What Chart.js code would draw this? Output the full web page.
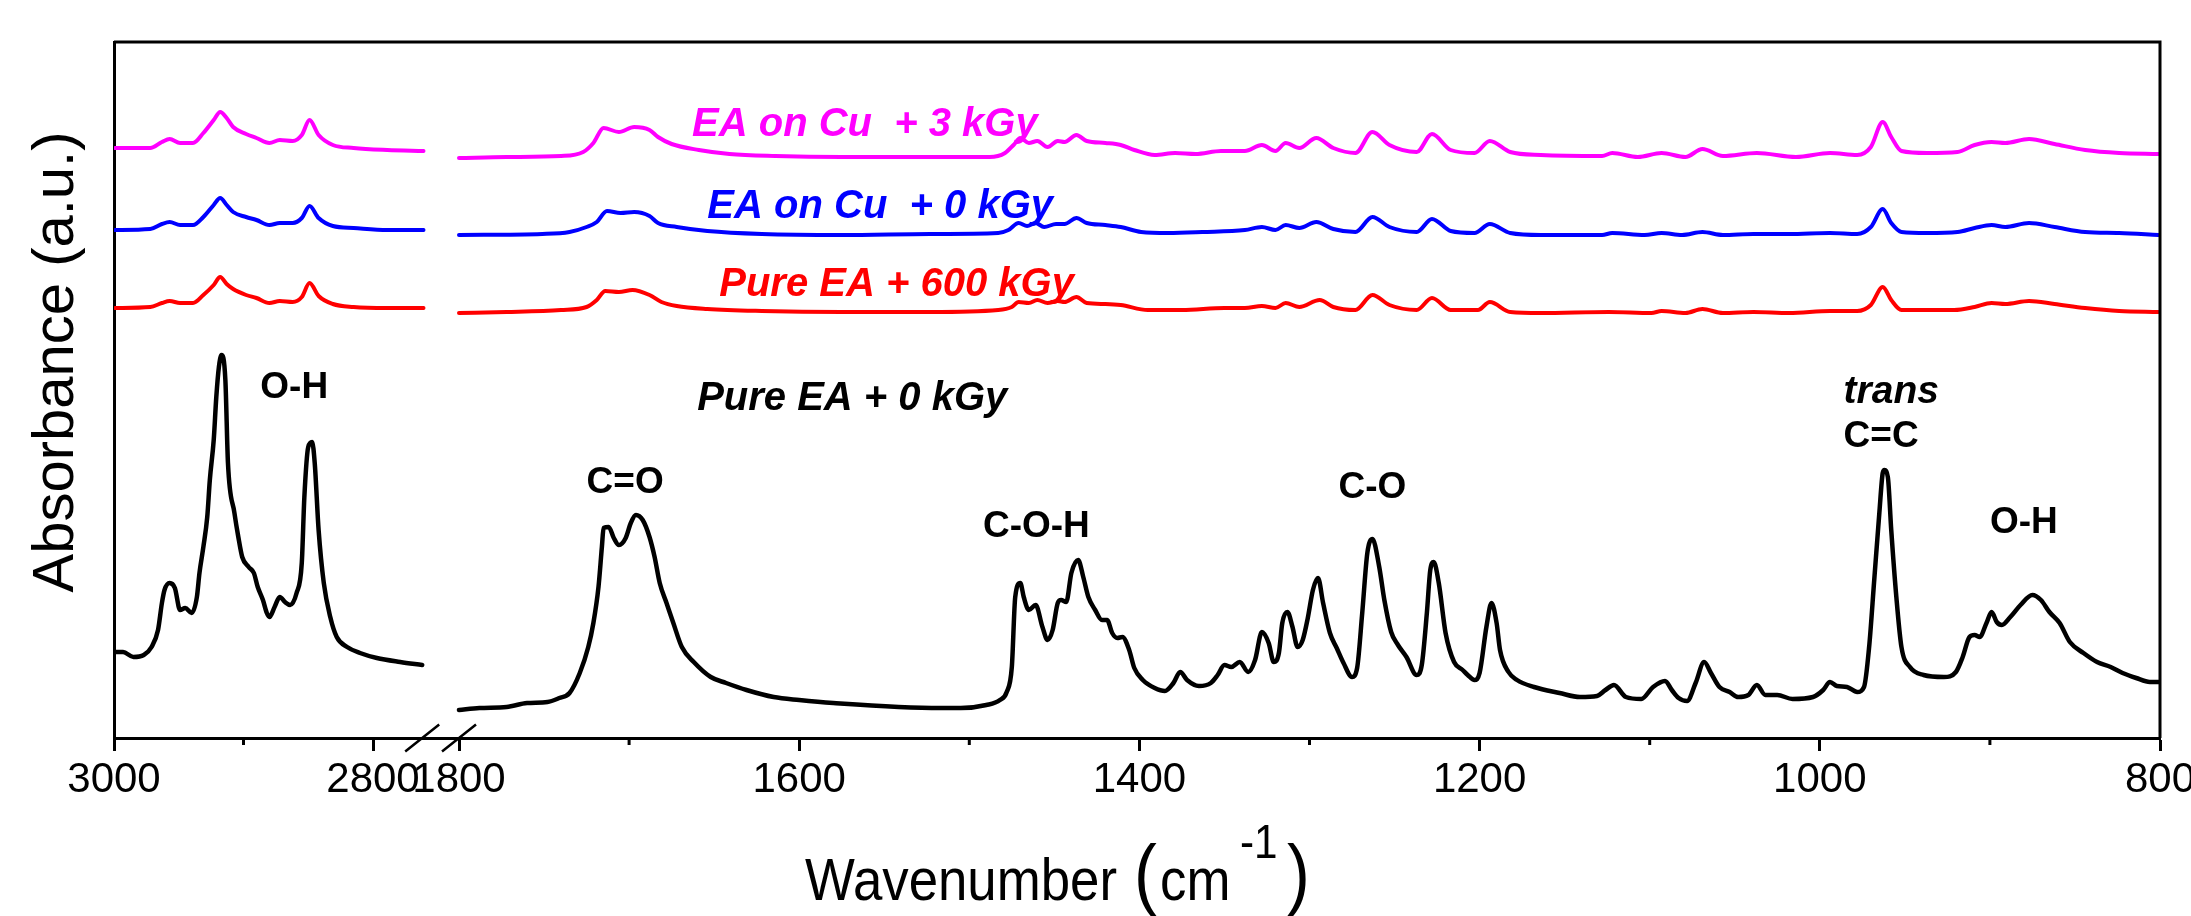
<!DOCTYPE html>
<html>
<head>
<meta charset="utf-8">
<title>FTIR spectra of EA</title>
<script src="https://cdn.jsdelivr.net/npm/chart.js@4.4.1/dist/chart.umd.min.js"></script>
<style>
  html, body { margin: 0; padding: 0; background: #fff; }
  #wrap { width: 2191px; height: 916px; }
</style>
</head>
<body>
<div id="wrap"><canvas id="ftir" width="2191" height="916"></canvas></div>
<script>
/* ==========================================================
   FTIR spectra, broken wavenumber axis (3000-2762 | 1800-800)
   ========================================================== */

const MAJOR_TICKS = [3000, 2800, 1800, 1600, 1400, 1200, 1000, 800];
const MINOR_TICKS = [2900, 1700, 1500, 1300, 1100, 900];
const BREAK_AT = [2762, 1800];   // last point of left part, first point of right part

// Pure EA + 0 kGy (black)
const pure0Wn = [
  2999, 2993, 2985, 2977, 2971, 2966, 2963, 2961, 2957, 2953,
  2949, 2945, 2940, 2936, 2934, 2931, 2928, 2926, 2923, 2921,
  2919, 2917, 2914, 2912, 2907, 2904, 2901, 2896, 2892, 2889,
  2885, 2882, 2880, 2876, 2872, 2868, 2864, 2859, 2855, 2853,
  2850, 2847, 2845, 2842, 2838, 2833, 2828, 2820, 2810, 2797,
  2779, 2762,
  1800, 1788, 1772, 1760, 1748, 1741, 1735, 1729, 1724, 1721,
  1718, 1716, 1715, 1712, 1709, 1706, 1702, 1699, 1696, 1692,
  1688, 1685, 1682, 1678, 1674, 1669, 1662, 1652, 1643, 1631,
  1615, 1600, 1580, 1517, 1505, 1490, 1482, 1478, 1475, 1473,
  1470, 1468, 1465, 1461, 1457, 1454, 1451, 1448, 1446, 1443,
  1440, 1436, 1433, 1430, 1426, 1422, 1419, 1416, 1413, 1410,
  1406, 1403, 1398, 1391, 1385, 1380, 1376, 1372, 1365, 1358,
  1354, 1350, 1346, 1341, 1336, 1332, 1328, 1324, 1321, 1318,
  1316, 1313, 1310, 1307, 1304, 1301, 1298, 1295, 1292, 1288,
  1284, 1280, 1275, 1272, 1269, 1266, 1263, 1259, 1256, 1252,
  1248, 1243, 1237, 1234, 1231, 1229, 1227, 1224, 1220, 1215,
  1210, 1207, 1203, 1200, 1196, 1193, 1190, 1188, 1183, 1178,
  1168, 1153, 1141, 1131, 1126, 1121, 1114, 1105, 1098, 1091,
  1087, 1083, 1078, 1073, 1068, 1064, 1059, 1053, 1048, 1042,
  1037, 1032, 1025, 1016, 1004, 998, 994, 990, 984, 978,
  974, 971, 968, 965, 963, 962, 960, 958, 955, 952,
  947, 939, 927, 920, 916, 912, 909, 906, 902, 899,
  896, 893, 888, 882, 875, 870, 865, 859, 853, 845,
  837, 829, 822, 814, 806, 800
];
const pure0Abs = [
  0.86, 0.86, 0.81, 0.83, 0.91, 1.08, 1.35, 1.48, 1.55, 1.50,
  1.28, 1.30, 1.25, 1.41, 1.65, 1.91, 2.21, 2.58, 2.98, 3.41,
  3.71, 3.83, 3.58, 2.75, 2.25, 2.01, 1.81, 1.71, 1.65, 1.51,
  1.38, 1.25, 1.21, 1.31, 1.41, 1.36, 1.33, 1.45, 1.75, 2.41,
  2.91, 2.96, 2.75, 2.08, 1.55, 1.21, 1.01, 0.91, 0.85, 0.80,
  0.76, 0.73,
  0.28, 0.30, 0.31, 0.35, 0.36, 0.40, 0.45, 0.65, 0.91, 1.15,
  1.51, 1.91, 2.10, 2.11, 2.00, 1.93, 2.00, 2.15, 2.23, 2.18,
  2.01, 1.81, 1.55, 1.35, 1.15, 0.91, 0.76, 0.61, 0.55, 0.48,
  0.41, 0.38, 0.35, 0.30, 0.30, 0.33, 0.38, 0.46, 0.71, 1.41,
  1.55, 1.41, 1.28, 1.33, 1.11, 0.98, 1.08, 1.35, 1.38, 1.36,
  1.65, 1.78, 1.61, 1.41, 1.28, 1.18, 1.18, 1.05, 1.00, 1.01,
  0.88, 0.70, 0.58, 0.50, 0.47, 0.55, 0.66, 0.58, 0.52, 0.55,
  0.63, 0.73, 0.71, 0.76, 0.66, 0.78, 1.06, 0.95, 0.76, 0.85,
  1.15, 1.26, 1.11, 0.91, 0.98, 1.20, 1.48, 1.60, 1.35, 1.05,
  0.90, 0.75, 0.61, 0.70, 1.25, 1.85, 1.99, 1.71, 1.38, 1.06,
  0.93, 0.81, 0.63, 0.73, 1.25, 1.68, 1.76, 1.55, 1.05, 0.76,
  0.68, 0.63, 0.58, 0.65, 1.11, 1.35, 1.15, 0.88, 0.66, 0.58,
  0.51, 0.45, 0.41, 0.42, 0.48, 0.53, 0.41, 0.39, 0.51, 0.57,
  0.48, 0.40, 0.37, 0.55, 0.76, 0.65, 0.51, 0.46, 0.41, 0.43,
  0.53, 0.43, 0.43, 0.39, 0.41, 0.48, 0.56, 0.52, 0.51, 0.46,
  0.51, 0.91, 1.58, 2.25, 2.65, 2.68, 2.61, 2.08, 1.41, 0.91,
  0.71, 0.63, 0.61, 0.66, 0.81, 1.01, 1.03, 1.01, 1.15, 1.26,
  1.16, 1.13, 1.21, 1.33, 1.43, 1.38, 1.26, 1.15, 0.96, 0.85,
  0.76, 0.71, 0.65, 0.60, 0.56, 0.56
];

// the three offset spectra share one wavenumber grid for the left part
const leftWn = [
  2999, 2972, 2963, 2957, 2949, 2939, 2931, 2923, 2918, 2913,
  2908, 2898, 2890, 2880, 2872, 2862, 2855, 2849, 2842, 2831,
  2815, 2789, 2761
];

// Pure EA + 600 kGy (red)
const pure600Wn = leftWn.concat([
  1800, 1772, 1740, 1725, 1719, 1714, 1706, 1698, 1688, 1681,
  1672, 1654, 1622, 1575, 1523, 1483, 1475, 1471, 1465, 1460,
  1454, 1448, 1444, 1437, 1431, 1420, 1411, 1395, 1375, 1350,
  1338, 1328, 1320, 1314, 1306, 1294, 1286, 1273, 1263, 1253,
  1237, 1228, 1217, 1201, 1194, 1182, 1164, 1124, 1099, 1093,
  1079, 1069, 1057, 1039, 1018, 994, 978, 970, 963, 958,
  952, 921, 909, 899, 891, 877, 862, 844, 824, 801
]);
const pure600Abs = [
  4.30, 4.31, 4.35, 4.37, 4.35, 4.35, 4.43, 4.53, 4.61, 4.54,
  4.49, 4.43, 4.40, 4.35, 4.37, 4.36, 4.41, 4.55, 4.42, 4.34,
  4.31, 4.30, 4.30,
  4.25, 4.26, 4.28, 4.31, 4.38, 4.47, 4.46, 4.48, 4.43, 4.36,
  4.32, 4.29, 4.27, 4.26, 4.26, 4.28, 4.31, 4.36, 4.35, 4.38,
  4.35, 4.37, 4.36, 4.41, 4.35, 4.34, 4.33, 4.28, 4.28, 4.30,
  4.30, 4.32, 4.30, 4.35, 4.31, 4.38, 4.31, 4.28, 4.43, 4.33,
  4.28, 4.40, 4.28, 4.28, 4.36, 4.26, 4.25, 4.26, 4.25, 4.27,
  4.25, 4.29, 4.25, 4.26, 4.25, 4.27, 4.27, 4.33, 4.51, 4.38,
  4.28, 4.28, 4.31, 4.35, 4.34, 4.37, 4.34, 4.30, 4.27, 4.26
];

// EA on Cu + 0 kGy (blue)
const cu0Wn = leftWn.concat([
  1800, 1751, 1735, 1725, 1719, 1713, 1705, 1697, 1688, 1683,
  1672, 1654, 1622, 1575, 1523, 1483, 1477, 1471, 1466, 1461,
  1456, 1449, 1444, 1437, 1431, 1420, 1411, 1399, 1383, 1363,
  1338, 1328, 1320, 1314, 1306, 1296, 1286, 1273, 1263, 1253,
  1237, 1228, 1217, 1203, 1194, 1182, 1164, 1128, 1122, 1103,
  1093, 1081, 1069, 1057, 1039, 1018, 994, 978, 970, 963,
  958, 952, 937, 919, 909, 899, 891, 877, 862, 844,
  824, 801
]);
const cu0Abs = [
  5.08, 5.09, 5.14, 5.16, 5.13, 5.13, 5.21, 5.33, 5.40, 5.33,
  5.26, 5.21, 5.18, 5.13, 5.15, 5.15, 5.20, 5.32, 5.20, 5.12,
  5.10, 5.08, 5.08,
  5.03, 5.04, 5.06, 5.11, 5.16, 5.27, 5.25, 5.26, 5.22, 5.15,
  5.11, 5.07, 5.04, 5.03, 5.04, 5.05, 5.08, 5.15, 5.12, 5.15,
  5.11, 5.14, 5.14, 5.20, 5.15, 5.13, 5.11, 5.06, 5.05, 5.06,
  5.08, 5.11, 5.08, 5.13, 5.10, 5.16, 5.09, 5.06, 5.21, 5.11,
  5.06, 5.19, 5.07, 5.05, 5.14, 5.05, 5.03, 5.03, 5.05, 5.03,
  5.05, 5.03, 5.06, 5.03, 5.04, 5.04, 5.05, 5.04, 5.11, 5.29,
  5.15, 5.06, 5.05, 5.06, 5.10, 5.13, 5.11, 5.15, 5.11, 5.06,
  5.05, 5.03
];

// EA on Cu + 3 kGy (magenta)
const cu3Wn = leftWn.concat([
  1800, 1772, 1740, 1727, 1721, 1715, 1706, 1697, 1688, 1683,
  1675, 1659, 1641, 1614, 1575, 1523, 1488, 1479, 1474, 1470,
  1465, 1460, 1454, 1448, 1444, 1437, 1431, 1420, 1411, 1403,
  1391, 1379, 1367, 1352, 1338, 1328, 1320, 1314, 1306, 1296,
  1286, 1273, 1263, 1253, 1237, 1228, 1217, 1203, 1194, 1182,
  1164, 1128, 1122, 1107, 1093, 1079, 1069, 1057, 1037, 1014,
  994, 978, 970, 963, 958, 952, 937, 919, 909, 899,
  891, 877, 862, 844, 824, 801
]);
const cu3Abs = [
  5.90, 5.90, 5.96, 5.99, 5.95, 5.95, 6.05, 6.18, 6.26, 6.20,
  6.11, 6.04, 6.00, 5.95, 5.98, 5.97, 6.03, 6.18, 6.03, 5.93,
  5.90, 5.88, 5.87,
  5.80, 5.81, 5.82, 5.86, 5.95, 6.10, 6.06, 6.11, 6.08, 6.01,
  5.94, 5.88, 5.84, 5.82, 5.81, 5.81, 5.81, 5.85, 5.93, 6.00,
  5.95, 5.97, 5.91, 5.97, 5.96, 6.03, 5.97, 5.95, 5.93, 5.88,
  5.83, 5.85, 5.84, 5.87, 5.87, 5.93, 5.87, 5.95, 5.90, 6.00,
  5.90, 5.85, 6.06, 5.93, 5.86, 6.04, 5.88, 5.85, 5.97, 5.86,
  5.83, 5.82, 5.85, 5.81, 5.85, 5.81, 5.89, 5.82, 5.85, 5.81,
  5.85, 5.83, 5.91, 6.16, 6.01, 5.87, 5.85, 5.86, 5.93, 5.96,
  5.95, 5.99, 5.94, 5.88, 5.85, 5.84
];

// band assignments and series names, anchored at (wavenumber, absorbance)
const BAND_LABELS = [
  { text: 'O-H',   wn: 2887, at: 3.40 },
  { text: 'C=O',   wn: 1725, at: 2.45 },
  { text: 'C-O-H', wn: 1492, at: 2.01 },
  { text: 'C-O',   wn: 1283, at: 2.40 },
  { text: 'trans', wn: 986,  at: 3.35, italic: true },
  { text: 'C=C',   wn: 986,  at: 2.91 },
  { text: 'O-H',   wn: 900,  at: 2.05 },
];
const SERIES_LABELS = [
  { text: 'EA on Cu  + 3 kGy', wn: 1663, at: 6.02, color: '#FF00FF' },
  { text: 'EA on Cu  + 0 kGy', wn: 1654, at: 5.20, color: '#0000FF' },
  { text: 'Pure EA + 600 kGy', wn: 1647, at: 4.42, color: '#FF0000' },
  { text: 'Pure EA + 0 kGy',   wn: 1660, at: 3.28, color: '#000000' },
];

// broken axis: both parts share one linear scale, right part is stretched more
const AXIS = { leftStart: 3000, leftPerCm: 1.295, rightStart: 1800, rightOffset: 345, rightPerCm: 1.701 };
const toAxis = wn => wn > 2000
  ? (AXIS.leftStart - wn) * AXIS.leftPerCm
  : AXIS.rightOffset + (AXIS.rightStart - wn) * AXIS.rightPerCm;

function series(wn, abs) {
  const pts = [];
  wn.forEach((w, i) => {
    if (i > 0 && wn[i - 1] > 2000 && w < 2000) pts.push({ x: (toAxis(wn[i - 1]) + toAxis(w)) / 2, y: null });
    pts.push({ x: toAxis(w), y: abs[i] });
  });
  return pts;
}

const FONT = '"Liberation Sans", Arial, Helvetica, sans-serif';

function drawText(ctx, str, x, y, font, color, sx = 1) {
  ctx.save();
  ctx.translate(x, y);
  ctx.scale(sx, 1);
  ctx.font = font;
  ctx.fillStyle = color;
  ctx.textAlign = 'left';
  ctx.textBaseline = 'alphabetic';
  ctx.fillText(str, 0, 0);
  ctx.restore();
}

const decorPlugin = {
  id: 'decor',
  afterDatasetsDraw(chart) {
    const { ctx, chartArea: a, scales: { x, y } } = chart;
    ctx.save();
    ctx.strokeStyle = '#000';
    ctx.lineWidth = 3;
    // top and right frame
    ctx.beginPath();
    ctx.moveTo(a.left, a.top); ctx.lineTo(a.right, a.top); ctx.lineTo(a.right, a.bottom);
    ctx.stroke();
    // minor ticks
    ctx.beginPath();
    MINOR_TICKS.forEach(w => {
      const px = x.getPixelForValue(toAxis(w));
      ctx.moveTo(px, a.bottom); ctx.lineTo(px, a.bottom + 7);
    });
    ctx.stroke();
    // axis break marks
    ctx.lineWidth = 2.5;
    ctx.beginPath();
    BREAK_AT.forEach(w => {
      const px = x.getPixelForValue(toAxis(w));
      ctx.moveTo(px - 17, a.bottom + 13.5); ctx.lineTo(px + 17, a.bottom - 13.5);
    });
    ctx.stroke();
    ctx.restore();

    BAND_LABELS.forEach(l => drawText(ctx, l.text, x.getPixelForValue(toAxis(l.wn)), y.getPixelForValue(l.at),
      `${l.italic ? 'italic ' : ''}bold ${l.italic ? 39 : 37}px ${FONT}`, '#000'));
    SERIES_LABELS.forEach(l => drawText(ctx, l.text, x.getPixelForValue(toAxis(l.wn)), y.getPixelForValue(l.at),
      `italic bold 40px ${FONT}`, l.color));
  },
  afterDraw(chart) {
    const { ctx } = chart;
    // y title
    ctx.save();
    ctx.translate(73, 362);
    ctx.rotate(-Math.PI / 2);
    ctx.font = `58px ${FONT}`;
    ctx.fillStyle = '#000';
    ctx.textAlign = 'center';
    ctx.textBaseline = 'alphabetic';
    ctx.fillText('Absorbance (a.u.)', 0, 0);
    ctx.restore();
    // x title: Wavenumber (cm^-1)
    drawText(ctx, 'Wavenumber', 805, 900, `60px ${FONT}`, '#000', 0.88);
    drawText(ctx, '(', 1134, 900, `78px ${FONT}`, '#000', 0.88);
    drawText(ctx, 'cm', 1160, 900, `60px ${FONT}`, '#000', 0.88);
    drawText(ctx, '-1', 1240, 858, `48px ${FONT}`, '#000', 0.88);
    drawText(ctx, ')', 1287, 900, `78px ${FONT}`, '#000', 0.88);
  }
};

const mk = (data, color, width) => ({
  data, borderColor: color, borderWidth: width, pointRadius: 0, spanGaps: false,
  cubicInterpolationMode: 'monotone', borderJoinStyle: 'round', borderCapStyle: 'round', fill: false,
});

new Chart(document.getElementById('ftir'), {
  type: 'line',
  data: {
    datasets: [
      mk(series(cu3Wn, cu3Abs), '#FF00FF', 4),
      mk(series(cu0Wn, cu0Abs), '#0000FF', 4),
      mk(series(pure600Wn, pure600Abs), '#FF0000', 4),
      mk(series(pure0Wn, pure0Abs), '#000000', 4.5),
    ]
  },
  options: {
    responsive: false,
    animation: false,
    events: [],
    layout: { autoPadding: false, padding: { left: 0, right: 31, top: 42, bottom: 0 } },
    plugins: { legend: { display: false }, tooltip: { enabled: false } },
    scales: {
      x: {
        type: 'linear', min: 0, max: toAxis(800),
        afterFit: s => { s.height = 178; s.paddingLeft = 0; s.paddingRight = 0; },
        afterBuildTicks: s => { s.ticks = MAJOR_TICKS.map(w => ({ value: toAxis(w) })); },
        ticks: {
          autoSkip: false, maxRotation: 0, minRotation: 0, padding: 4, color: '#000',
          font: { family: FONT, size: 42 },
          callback: (v, i) => MAJOR_TICKS[i],
        },
        grid: { drawOnChartArea: false, drawTicks: true, tickLength: 13, tickWidth: 3, tickColor: '#000' },
        border: { display: true, color: '#000', width: 3 },
      },
      y: {
        min: 0, max: 6.96,
        afterFit: s => { s.width = 114; s.paddingTop = 0; s.paddingBottom = 0; },
        ticks: { display: false },
        grid: { display: false, drawTicks: false },
        border: { display: true, color: '#000', width: 3 },
      }
    }
  },
  plugins: [decorPlugin]
});
</script>
</body>
</html>
